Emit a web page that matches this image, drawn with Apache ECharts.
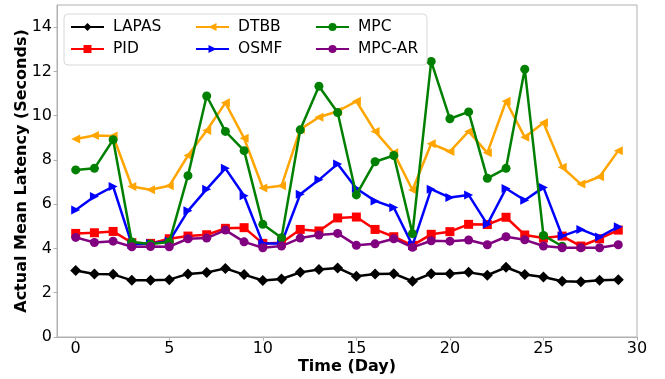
<!DOCTYPE html>
<html>
<head>
<meta charset="utf-8">
<script src="https://cdn.jsdelivr.net/npm/echarts@6/dist/echarts.min.js"></script>
<style>html,body{margin:0;padding:0;background:#fff;}#c{width:665px;height:379px;}</style>
</head>
<body>
<div id="c"></div>
<script>
var days = [0,1,2,3,4,5,6,7,8,9,10,11,12,13,14,15,16,17,18,19,20,21,22,23,24,25,26,27,28,29];
var xTicks = [0,5,10,15,20,25,30];
var yTicks = [0,2,4,6,8,10,12,14];
var LAPAS = [3.0,2.85,2.83,2.56,2.56,2.59,2.85,2.91,3.1,2.82,2.55,2.62,2.92,3.05,3.12,2.74,2.85,2.86,2.52,2.86,2.86,2.92,2.79,3.15,2.82,2.71,2.52,2.5,2.56,2.59];
var PID = [4.68,4.71,4.77,4.26,4.23,4.44,4.56,4.62,4.91,4.94,4.23,4.26,4.86,4.79,5.38,5.42,4.86,4.53,4.14,4.64,4.76,5.09,5.08,5.41,4.61,4.47,4.56,4.11,4.44,4.83];
var DTBB = [8.95,9.1,9.08,6.8,6.65,6.83,8.2,9.33,10.58,8.98,6.73,6.83,9.38,9.93,10.2,10.65,9.29,8.32,6.64,8.73,8.38,9.29,8.32,10.65,9.03,9.68,7.67,6.91,7.24,8.42];
var OSMF = [5.74,6.35,6.8,4.18,4.23,4.33,5.7,6.68,7.62,6.38,4.23,4.23,6.45,7.1,7.82,6.71,6.15,5.85,4.14,6.68,6.3,6.42,5.09,6.71,6.18,6.76,4.56,4.86,4.52,4.98];
var MPC = [7.55,7.62,8.91,4.29,4.2,4.29,7.29,10.89,9.29,8.42,5.09,4.48,9.36,11.33,10.14,6.42,7.92,8.2,4.67,12.45,9.86,10.17,7.17,7.62,12.1,4.59,4.1];
var MPCAR = [4.5,4.27,4.33,4.08,4.09,4.08,4.44,4.47,4.83,4.3,4.03,4.11,4.47,4.61,4.68,4.14,4.21,4.44,4.05,4.35,4.33,4.38,4.17,4.53,4.39,4.11,4.03,4.03,4.03,4.17];

function pairs(vals){ return vals.map(function(v,i){ return [days[i], v]; }); }

var specs = [
  {name:'LAPAS', data:LAPAS, color:'#000000', symbol:'diamond', size:11, rot:0},
  {name:'PID', data:PID, color:'#ff0000', symbol:'rect', size:9, rot:0},
  {name:'DTBB', data:DTBB, color:'#ffa500', symbol:'triangle', size:9, rot:90},
  {name:'OSMF', data:OSMF, color:'#0000ff', symbol:'triangle', size:9, rot:-90},
  {name:'MPC', data:MPC, color:'#008000', symbol:'circle', size:9, rot:0},
  {name:'MPC-AR', data:MPCAR, color:'#800080', symbol:'circle', size:9, rot:0}
];

var series = specs.map(function(s, k){
  return {
    name: s.name, type:'line', data: pairs(s.data),
    symbol: s.symbol, symbolSize: s.size, symbolRotate: s.rot,
    showAllSymbol: true,
    itemStyle: {color: s.color},
    lineStyle: {color: s.color, width: 2.5},
    z: 2 + k, animation: false
  };
});

var legPos = [
  {left:70, top:19}, {left:70, top:41},
  {left:195, top:19}, {left:195, top:41},
  {left:315, top:19}, {left:315, top:41}
];
var legends = specs.map(function(s, k){
  return {
    data:[s.name], left: legPos[k].left, top: legPos[k].top,
    itemWidth: 33, itemHeight: 10, itemGap: 0, padding: 0, z: 20,
    textStyle: {fontFamily:'DejaVu Sans', fontSize: 15.5, color:'#000', lineHeight: 16, padding:[0,0,0,4]},
    selectedMode: false
  };
});

var chart = echarts.init(document.getElementById('c'), null, {renderer:'canvas'});
chart.setOption({
  animation: false,
  backgroundColor: '#fff',
  grid: {left:57, right:28, top:5, bottom:42, show:true, borderColor:'#b0b0b0', borderWidth:1, containLabel:false, outerBoundsMode:'none'},
  graphic: [{type:'rect', z:15, shape:{x:64, y:14, width:363, height:51, r:4}, style:{fill:'#fff', stroke:'#d8d8d8', lineWidth:1}}],
  legend: legends,
  xAxis: {
    type:'value', min:-1, max:30,
    name:'Time (Day)', nameLocation:'middle', nameGap:22, nameMoveOverlap:false,
    nameTextStyle:{fontFamily:'DejaVu Sans', fontWeight:'bold', fontSize:16, color:'#000'},
    axisLine:{show:true, onZero:false, lineStyle:{color:'#b0b0b0', width:1}},
    axisTick:{show:true, length:3.5, lineStyle:{color:'#b0b0b0'}, customValues: xTicks},
    axisLabel:{fontFamily:'DejaVu Sans', fontSize:16, color:'#000', margin:4, customValues: xTicks},
    splitLine:{show:false}
  },
  yAxis: {
    type:'value', min:0, max:15,
    name:'Actual Mean Latency (Seconds)', nameLocation:'middle', nameGap:27, nameMoveOverlap:false,
    nameTextStyle:{fontFamily:'DejaVu Sans', fontWeight:'bold', fontSize:16, color:'#000'},
    axisLine:{show:true, onZero:false, lineStyle:{color:'#b0b0b0', width:1}},
    axisTick:{show:true, length:3.5, lineStyle:{color:'#b0b0b0'}, customValues: yTicks},
    axisLabel:{fontFamily:'DejaVu Sans', fontSize:16, color:'#000', margin:5, customValues: yTicks},
    splitLine:{show:false}
  },
  series: series
});
</script>
</body>
</html>
